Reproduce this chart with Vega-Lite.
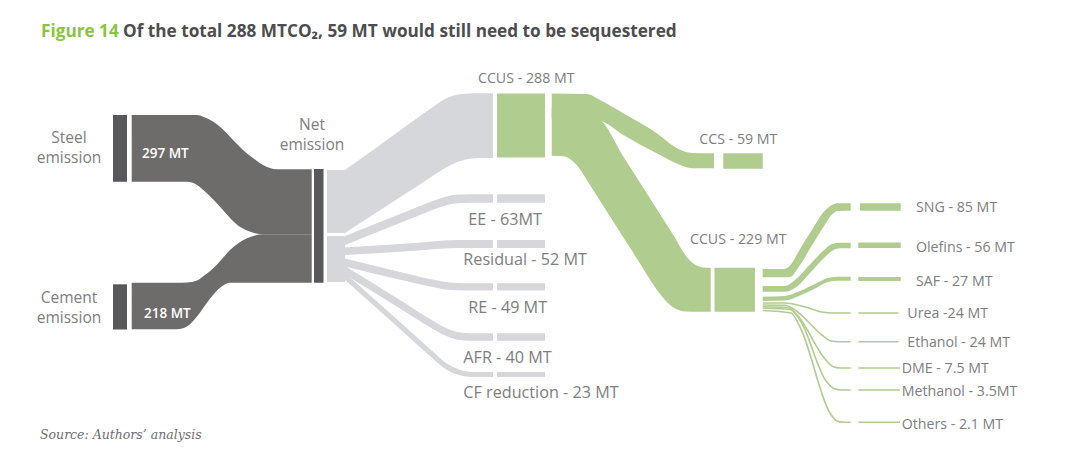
{
  "$schema": "https://vega.github.io/schema/vega-lite/v6.json",
  "width": 1067,
  "height": 460,
  "padding": 0,
  "autosize": {"type": "fit", "contains": "padding"},
  "background": "#ffffff",
  "config": {"view": {"stroke": null}},
  "datasets": {
    "links": [
      {"link": "steel", "grp": "darkflow", "x": 131.7, "top": 115, "bot": 181.7},
      {"link": "steel", "grp": "darkflow", "x": 187, "top": 115, "bot": 181.8},
      {"link": "steel", "grp": "darkflow", "x": 197, "top": 115, "bot": 185},
      {"link": "steel", "grp": "darkflow", "x": 205, "top": 117.5, "bot": 191.5},
      {"link": "steel", "grp": "darkflow", "x": 213, "top": 121.5, "bot": 199.3},
      {"link": "steel", "grp": "darkflow", "x": 222, "top": 128.5, "bot": 209},
      {"link": "steel", "grp": "darkflow", "x": 230, "top": 136.7, "bot": 218},
      {"link": "steel", "grp": "darkflow", "x": 238, "top": 145, "bot": 225.5},
      {"link": "steel", "grp": "darkflow", "x": 247, "top": 153.5, "bot": 230.5},
      {"link": "steel", "grp": "darkflow", "x": 255, "top": 159.5, "bot": 233.3},
      {"link": "steel", "grp": "darkflow", "x": 263, "top": 165, "bot": 234.3},
      {"link": "steel", "grp": "darkflow", "x": 270, "top": 168, "bot": 234.3},
      {"link": "steel", "grp": "darkflow", "x": 277, "top": 169.3, "bot": 234.3},
      {"link": "steel", "grp": "darkflow", "x": 311.7, "top": 169.3, "bot": 234.3},

      {"link": "cement", "grp": "darkflow", "x": 131.7, "top": 282.7, "bot": 329.3},
      {"link": "cement", "grp": "darkflow", "x": 177, "top": 282.7, "bot": 329.3},
      {"link": "cement", "grp": "darkflow", "x": 187, "top": 282.5, "bot": 326.5},
      {"link": "cement", "grp": "darkflow", "x": 197, "top": 280.5, "bot": 316.5},
      {"link": "cement", "grp": "darkflow", "x": 205, "top": 275, "bot": 305.5},
      {"link": "cement", "grp": "darkflow", "x": 213, "top": 268.5, "bot": 295},
      {"link": "cement", "grp": "darkflow", "x": 222, "top": 259, "bot": 286.3},
      {"link": "cement", "grp": "darkflow", "x": 230, "top": 250, "bot": 282.7},
      {"link": "cement", "grp": "darkflow", "x": 238, "top": 243.5, "bot": 282.7},
      {"link": "cement", "grp": "darkflow", "x": 247, "top": 238.3, "bot": 282.7},
      {"link": "cement", "grp": "darkflow", "x": 255, "top": 235.5, "bot": 282.7},
      {"link": "cement", "grp": "darkflow", "x": 263, "top": 234.3, "bot": 282.7},
      {"link": "cement", "grp": "darkflow", "x": 311.7, "top": 234.3, "bot": 282.7},

      {"link": "ccus288", "grp": "light", "x": 345, "top": 170, "bot": 233},
      {"link": "ccus288", "grp": "light", "x": 380, "top": 145, "bot": 210.3},
      {"link": "ccus288", "grp": "light", "x": 410, "top": 123.3, "bot": 190.8},
      {"link": "ccus288", "grp": "light", "x": 430, "top": 109, "bot": 177.8},
      {"link": "ccus288", "grp": "light", "x": 447, "top": 98, "bot": 167},
      {"link": "ccus288", "grp": "light", "x": 462, "top": 94, "bot": 160.5},
      {"link": "ccus288", "grp": "light", "x": 475, "top": 93.3, "bot": 158.3},
      {"link": "ccus288", "grp": "light", "x": 493, "top": 93.3, "bot": 158},

      {"link": "ee", "grp": "light", "x": 345, "top": 236, "bot": 245},
      {"link": "ee", "grp": "light", "x": 380, "top": 222, "bot": 231},
      {"link": "ee", "grp": "light", "x": 420, "top": 206, "bot": 215},
      {"link": "ee", "grp": "light", "x": 440, "top": 198.5, "bot": 207.3},
      {"link": "ee", "grp": "light", "x": 455, "top": 194.8, "bot": 203.5},
      {"link": "ee", "grp": "light", "x": 470, "top": 194.3, "bot": 202.7},
      {"link": "ee", "grp": "light", "x": 493, "top": 194.3, "bot": 202.7},

      {"link": "residual", "grp": "light", "x": 345, "top": 247.5, "bot": 255},
      {"link": "residual", "grp": "light", "x": 400, "top": 244, "bot": 251.8},
      {"link": "residual", "grp": "light", "x": 430, "top": 241.7, "bot": 249.5},
      {"link": "residual", "grp": "light", "x": 450, "top": 240.3, "bot": 248.2},
      {"link": "residual", "grp": "light", "x": 470, "top": 240, "bot": 248},
      {"link": "residual", "grp": "light", "x": 493, "top": 240, "bot": 248},

      {"link": "re", "grp": "light", "x": 345, "top": 258.5, "bot": 266.5},
      {"link": "re", "grp": "light", "x": 400, "top": 272, "bot": 279.8},
      {"link": "re", "grp": "light", "x": 435, "top": 280, "bot": 287.5},
      {"link": "re", "grp": "light", "x": 450, "top": 282.5, "bot": 290},
      {"link": "re", "grp": "light", "x": 465, "top": 283.2, "bot": 290.5},
      {"link": "re", "grp": "light", "x": 493, "top": 283.2, "bot": 290.5},

      {"link": "afr", "grp": "light", "x": 345, "top": 266, "bot": 274.5},
      {"link": "afr", "grp": "light", "x": 400, "top": 300, "bot": 308.5},
      {"link": "afr", "grp": "light", "x": 430, "top": 319, "bot": 327.3},
      {"link": "afr", "grp": "light", "x": 445, "top": 327.5, "bot": 335.5},
      {"link": "afr", "grp": "light", "x": 458, "top": 332, "bot": 339.8},
      {"link": "afr", "grp": "light", "x": 470, "top": 333.3, "bot": 340.7},
      {"link": "afr", "grp": "light", "x": 493, "top": 333.3, "bot": 340.7},

      {"link": "cf", "grp": "light", "x": 345, "top": 273, "bot": 280},
      {"link": "cf", "grp": "light", "x": 400, "top": 322, "bot": 329},
      {"link": "cf", "grp": "light", "x": 430, "top": 349, "bot": 356},
      {"link": "cf", "grp": "light", "x": 447, "top": 363.5, "bot": 370},
      {"link": "cf", "grp": "light", "x": 460, "top": 369.8, "bot": 375.3},
      {"link": "cf", "grp": "light", "x": 472, "top": 372, "bot": 377},
      {"link": "cf", "grp": "light", "x": 493, "top": 372, "bot": 377},

      {"link": "ccs", "grp": "green", "x": 551.7, "top": 93.5, "bot": 118},
      {"link": "ccs", "grp": "green", "x": 586.7, "top": 94, "bot": 120},
      {"link": "ccs", "grp": "green", "x": 600, "top": 100, "bot": 121},
      {"link": "ccs", "grp": "green", "x": 623.3, "top": 113.3, "bot": 135},
      {"link": "ccs", "grp": "green", "x": 656.7, "top": 133.3, "bot": 153.3},
      {"link": "ccs", "grp": "green", "x": 678, "top": 148.8, "bot": 164},
      {"link": "ccs", "grp": "green", "x": 692, "top": 153, "bot": 168.2},
      {"link": "ccs", "grp": "green", "x": 714, "top": 153.3, "bot": 168.3},

      {"link": "ccus229", "grp": "green", "x": 551.7, "top": 108, "bot": 155.7},
      {"link": "ccus229", "grp": "green", "x": 563.3, "top": 111, "bot": 156.2},
      {"link": "ccus229", "grp": "green", "x": 576.7, "top": 114, "bot": 165},
      {"link": "ccus229", "grp": "green", "x": 590, "top": 117, "bot": 185},
      {"link": "ccus229", "grp": "green", "x": 600, "top": 120, "bot": 200.7},
      {"link": "ccus229", "grp": "green", "x": 623.3, "top": 156.6, "bot": 237.3},
      {"link": "ccus229", "grp": "green", "x": 640, "top": 182.8, "bot": 263.5},
      {"link": "ccus229", "grp": "green", "x": 656.7, "top": 209, "bot": 289.5},
      {"link": "ccus229", "grp": "green", "x": 673.3, "top": 235, "bot": 307.5},
      {"link": "ccus229", "grp": "green", "x": 686.7, "top": 257, "bot": 311.5},
      {"link": "ccus229", "grp": "green", "x": 696.7, "top": 265.5, "bot": 311.7},
      {"link": "ccus229", "grp": "green", "x": 706.7, "top": 267.7, "bot": 311.7},
      {"link": "ccus229", "grp": "green", "x": 710.7, "top": 267.7, "bot": 311.7},

      {"link": "sng", "grp": "green", "x": 762.7, "top": 269, "bot": 277.3},
      {"link": "sng", "grp": "green", "x": 784, "top": 269, "bot": 277.3},
      {"link": "sng", "grp": "green", "x": 790, "top": 265.5, "bot": 277},
      {"link": "sng", "grp": "green", "x": 800, "top": 249, "bot": 265},
      {"link": "sng", "grp": "green", "x": 812, "top": 229.8, "bot": 245.3},
      {"link": "sng", "grp": "green", "x": 824, "top": 211.5, "bot": 226},
      {"link": "sng", "grp": "green", "x": 832, "top": 205, "bot": 214.5},
      {"link": "sng", "grp": "green", "x": 838, "top": 203.3, "bot": 211},
      {"link": "sng", "grp": "green", "x": 850.7, "top": 203.3, "bot": 210.7},

      {"link": "olefins", "grp": "green", "x": 762.7, "top": 286, "bot": 291.7},
      {"link": "olefins", "grp": "green", "x": 785, "top": 286, "bot": 291.7},
      {"link": "olefins", "grp": "green", "x": 795, "top": 280, "bot": 288},
      {"link": "olefins", "grp": "green", "x": 810, "top": 264.5, "bot": 273},
      {"link": "olefins", "grp": "green", "x": 824, "top": 250, "bot": 258},
      {"link": "olefins", "grp": "green", "x": 832, "top": 244, "bot": 251},
      {"link": "olefins", "grp": "green", "x": 840, "top": 242.7, "bot": 248.3},
      {"link": "olefins", "grp": "green", "x": 850.7, "top": 242.7, "bot": 248.3},

      {"link": "saf", "grp": "green", "x": 762.7, "top": 296.7, "bot": 301},
      {"link": "saf", "grp": "green", "x": 785, "top": 296, "bot": 300.5},
      {"link": "saf", "grp": "green", "x": 800, "top": 291, "bot": 295.5},
      {"link": "saf", "grp": "green", "x": 815, "top": 284, "bot": 288.5},
      {"link": "saf", "grp": "green", "x": 828, "top": 278, "bot": 282},
      {"link": "saf", "grp": "green", "x": 838, "top": 276.8, "bot": 280.8},
      {"link": "saf", "grp": "green", "x": 850.7, "top": 276.8, "bot": 280.8}
    ],
    "thin": [
      {"link": "urea", "x": 762.7, "y": 303},
      {"link": "urea", "x": 785, "y": 303},
      {"link": "urea", "x": 805, "y": 307},
      {"link": "urea", "x": 822, "y": 312},
      {"link": "urea", "x": 832, "y": 313},
      {"link": "urea", "x": 850.7, "y": 313},
      {"link": "ethanol", "x": 762.7, "y": 305},
      {"link": "ethanol", "x": 785, "y": 305.3},
      {"link": "ethanol", "x": 795, "y": 310},
      {"link": "ethanol", "x": 822, "y": 335},
      {"link": "ethanol", "x": 831, "y": 341},
      {"link": "ethanol", "x": 838, "y": 341.7},
      {"link": "ethanol", "x": 850.7, "y": 341.7},
      {"link": "dme", "x": 762.7, "y": 306.7},
      {"link": "dme", "x": 788, "y": 307.5},
      {"link": "dme", "x": 798, "y": 316},
      {"link": "dme", "x": 825, "y": 359},
      {"link": "dme", "x": 833, "y": 366.5},
      {"link": "dme", "x": 840, "y": 368},
      {"link": "dme", "x": 850.7, "y": 368},
      {"link": "methanol", "x": 762.7, "y": 308.3},
      {"link": "methanol", "x": 790, "y": 309.5},
      {"link": "methanol", "x": 800, "y": 320},
      {"link": "methanol", "x": 826, "y": 381},
      {"link": "methanol", "x": 834, "y": 388.5},
      {"link": "methanol", "x": 841, "y": 390},
      {"link": "methanol", "x": 850.7, "y": 390},
      {"link": "others", "x": 762.7, "y": 310.5},
      {"link": "others", "x": 791, "y": 313},
      {"link": "others", "x": 800, "y": 327},
      {"link": "others", "x": 830, "y": 413},
      {"link": "others", "x": 836, "y": 420.5},
      {"link": "others", "x": 843, "y": 422.3},
      {"link": "others", "x": 850.7, "y": 422.3},
      {"link": "urea-node", "x": 858.3, "y": 313},
      {"link": "urea-node", "x": 898.5, "y": 313},
      {"link": "ethanol-node", "x": 858.3, "y": 341.7},
      {"link": "ethanol-node", "x": 898.5, "y": 341.7},
      {"link": "dme-node", "x": 858.3, "y": 368},
      {"link": "dme-node", "x": 900, "y": 368},
      {"link": "methanol-node", "x": 858.3, "y": 390},
      {"link": "methanol-node", "x": 900, "y": 390},
      {"link": "others-node", "x": 858.3, "y": 422.3},
      {"link": "others-node", "x": 900, "y": 422.3}
    ],
    "nodes": [
      {"name": "Steel", "grp": "dark", "x1": 113, "x2": 127, "y1": 115, "y2": 181.7},
      {"name": "Cement", "grp": "dark", "x1": 113, "x2": 127, "y1": 284.3, "y2": 329.5},
      {"name": "Net", "grp": "dark", "x1": 314, "x2": 323.5, "y1": 169, "y2": 282.7},
      {"name": "CCUS box", "grp": "light", "x1": 327, "x2": 345, "y1": 170, "y2": 233},
      {"name": "Others box", "grp": "light", "x1": 327, "x2": 345, "y1": 236, "y2": 282},
      {"name": "CCUS 288", "grp": "green", "x1": 497, "x2": 545, "y1": 93.5, "y2": 157.5},
      {"name": "EE", "grp": "light", "x1": 497, "x2": 545, "y1": 194.3, "y2": 202.7},
      {"name": "Residual", "grp": "light", "x1": 497, "x2": 545, "y1": 240, "y2": 248},
      {"name": "RE", "grp": "light", "x1": 497, "x2": 545, "y1": 283.2, "y2": 290.5},
      {"name": "AFR", "grp": "light", "x1": 497, "x2": 545, "y1": 333.3, "y2": 340.7},
      {"name": "CF", "grp": "light", "x1": 497, "x2": 545, "y1": 372, "y2": 377},
      {"name": "CCS", "grp": "green", "x1": 723.3, "x2": 762.7, "y1": 153.3, "y2": 168.8},
      {"name": "CCUS 229", "grp": "green", "x1": 714.5, "x2": 755, "y1": 267.7, "y2": 311.7},
      {"name": "SNG", "grp": "green", "x1": 860, "x2": 900.7, "y1": 203.3, "y2": 210.7},
      {"name": "Olefins", "grp": "green", "x1": 858.3, "x2": 900.7, "y1": 242.5, "y2": 248},
      {"name": "SAF", "grp": "green", "x1": 858.3, "x2": 900.7, "y1": 277, "y2": 281}
    ],
    "labels": [
      {"kind": "c", "text": "Steel", "x": 69, "y": 138},
      {"kind": "c", "text": "emission", "x": 69, "y": 158},
      {"kind": "c", "text": "Cement", "x": 69, "y": 298},
      {"kind": "c", "text": "emission", "x": 69, "y": 318},
      {"kind": "c", "text": "Net", "x": 312, "y": 125},
      {"kind": "c", "text": "emission", "x": 312, "y": 145},
      {"kind": "w", "text": "297 MT", "x": 142, "y": 154},
      {"kind": "w", "text": "218 MT", "x": 144, "y": 314},
      {"kind": "l", "text": "CCUS - 288 MT", "x": 478, "y": 79},
      {"kind": "m", "text": "EE - 63MT", "x": 468.3, "y": 220},
      {"kind": "m", "text": "Residual - 52 MT", "x": 463.3, "y": 260},
      {"kind": "m", "text": "RE - 49 MT", "x": 468.3, "y": 308.3},
      {"kind": "m", "text": "AFR - 40 MT", "x": 463.3, "y": 358.3},
      {"kind": "m", "text": "CF reduction - 23 MT", "x": 463.3, "y": 393.3},
      {"kind": "l", "text": "CCS - 59 MT", "x": 699.3, "y": 140},
      {"kind": "l", "text": "CCUS - 229 MT", "x": 690, "y": 240},
      {"kind": "l", "text": "SNG - 85 MT", "x": 916, "y": 208.3},
      {"kind": "l", "text": "Olefins - 56 MT", "x": 916, "y": 248.3},
      {"kind": "l", "text": "SAF - 27 MT", "x": 916, "y": 281.7},
      {"kind": "l", "text": "Urea -24 MT", "x": 907.3, "y": 314},
      {"kind": "l", "text": "Ethanol - 24 MT", "x": 907.3, "y": 342.7},
      {"kind": "l", "text": "DME - 7.5 MT", "x": 901.7, "y": 369.3},
      {"kind": "l", "text": "Methanol - 3.5MT", "x": 901.7, "y": 391.7},
      {"kind": "l", "text": "Others - 2.1 MT", "x": 901.7, "y": 425},
      {"kind": "tg", "text": "Figure 14", "x": 41, "y": 32},
      {"kind": "td", "text": "Of the total 288 MTCO₂, 59 MT would still need to be sequestered", "x": 123, "y": 32},
      {"kind": "src", "text": "Source: Authors’ analysis", "x": 40, "y": 435}
    ]
  },
  "layer": [
    {
      "data": {"name": "links"},
      "mark": {"type": "area", "interpolate": "monotone"},
      "encoding": {
        "x": {"field": "x", "type": "quantitative", "scale": {"domain": [0, 1067], "nice": false, "zero": false}, "axis": null},
        "y": {"field": "top", "type": "quantitative", "scale": {"domain": [0, 460], "nice": false, "zero": false, "reverse": true}, "axis": null},
        "y2": {"field": "bot"},
        "detail": {"field": "link"},
        "color": {"field": "grp", "type": "nominal", "scale": {"domain": ["dark", "darkflow", "light", "green"], "range": ["#58585a", "#6e6c6a", "#d6d7da", "#b1cc8f"]}, "legend": null}
      }
    },
    {
      "data": {"name": "thin"},
      "mark": {"type": "line", "interpolate": "monotone", "strokeWidth": 1.6, "color": "#b1cc8f"},
      "encoding": {
        "x": {"field": "x", "type": "quantitative"},
        "y": {"field": "y", "type": "quantitative"},
        "detail": {"field": "link"}
      }
    },
    {
      "data": {"name": "nodes"},
      "mark": {"type": "rect"},
      "encoding": {
        "x": {"field": "x1", "type": "quantitative"},
        "x2": {"field": "x2"},
        "y": {"field": "y1", "type": "quantitative"},
        "y2": {"field": "y2"},
        "color": {"field": "grp", "type": "nominal", "legend": null}
      }
    },
    {
      "data": {"name": "labels"},
      "transform": [{"filter": "datum.kind === 'c'"}],
      "mark": {"type": "text", "align": "center", "baseline": "middle", "font": "Open Sans", "fontSize": 15.5, "color": "#7d7e80"},
      "encoding": {
        "x": {"field": "x", "type": "quantitative"},
        "y": {"field": "y", "type": "quantitative"},
        "text": {"field": "text"}
      }
    },
    {
      "data": {"name": "labels"},
      "transform": [{"filter": "datum.kind === 'l'"}],
      "mark": {"type": "text", "align": "left", "baseline": "middle", "font": "Open Sans", "fontSize": 14.2, "color": "#7d7e80"},
      "encoding": {
        "x": {"field": "x", "type": "quantitative"},
        "y": {"field": "y", "type": "quantitative"},
        "text": {"field": "text"}
      }
    },
    {
      "data": {"name": "labels"},
      "transform": [{"filter": "datum.kind === 'm'"}],
      "mark": {"type": "text", "align": "left", "baseline": "middle", "font": "Open Sans", "fontSize": 16.2, "color": "#7d7e80"},
      "encoding": {
        "x": {"field": "x", "type": "quantitative"},
        "y": {"field": "y", "type": "quantitative"},
        "text": {"field": "text"}
      }
    },
    {
      "data": {"name": "labels"},
      "transform": [{"filter": "datum.kind === 'w'"}],
      "mark": {"type": "text", "align": "left", "baseline": "middle", "font": "Open Sans", "fontSize": 13.5, "fontWeight": 600, "color": "#ffffff"},
      "encoding": {
        "x": {"field": "x", "type": "quantitative"},
        "y": {"field": "y", "type": "quantitative"},
        "text": {"field": "text"}
      }
    },
    {
      "data": {"name": "labels"},
      "transform": [{"filter": "datum.kind === 'tg'"}],
      "mark": {"type": "text", "align": "left", "baseline": "middle", "font": "Open Sans", "fontSize": 17.2, "fontWeight": "bold", "color": "#8cc43f"},
      "encoding": {
        "x": {"field": "x", "type": "quantitative"},
        "y": {"field": "y", "type": "quantitative"},
        "text": {"field": "text"}
      }
    },
    {
      "data": {"name": "labels"},
      "transform": [{"filter": "datum.kind === 'td'"}],
      "mark": {"type": "text", "align": "left", "baseline": "middle", "font": "Open Sans", "fontSize": 17.2, "fontWeight": "bold", "color": "#4d4d4f"},
      "encoding": {
        "x": {"field": "x", "type": "quantitative"},
        "y": {"field": "y", "type": "quantitative"},
        "text": {"field": "text"}
      }
    },
    {
      "data": {"name": "labels"},
      "transform": [{"filter": "datum.kind === 'src'"}],
      "mark": {"type": "text", "align": "left", "baseline": "middle", "font": "DejaVu Serif", "fontSize": 12.5, "fontStyle": "italic", "color": "#6d6e71"},
      "encoding": {
        "x": {"field": "x", "type": "quantitative"},
        "y": {"field": "y", "type": "quantitative"},
        "text": {"field": "text"}
      }
    }
  ]
}
